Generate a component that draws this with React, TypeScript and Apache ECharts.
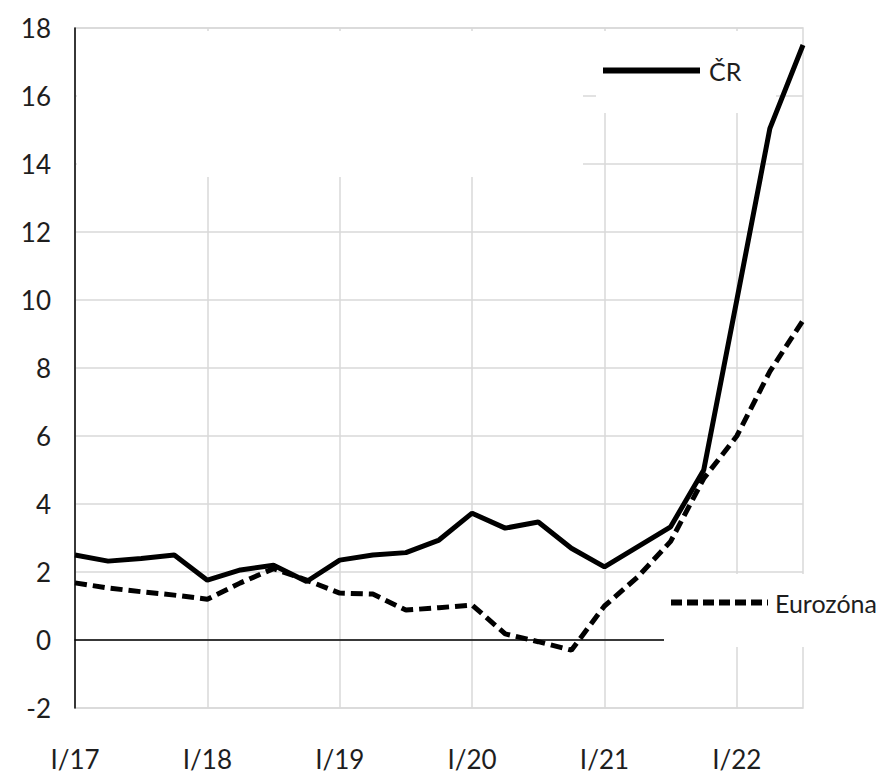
import React, { useEffect, useRef } from "react";
import * as echarts from "echarts";

const categories = [
  "I/17", "II/17", "III/17", "IV/17",
  "I/18", "II/18", "III/18", "IV/18",
  "I/19", "II/19", "III/19", "IV/19",
  "I/20", "II/20", "III/20", "IV/20",
  "I/21", "II/21", "III/21", "IV/21",
  "I/22", "II/22", "III/22",
];

const crValues = [
  2.5, 2.32, 2.4, 2.5,
  1.76, 2.06, 2.2, 1.72,
  2.35, 2.5, 2.57, 2.94,
  3.73, 3.29, 3.47, 2.7,
  2.15, 2.74, 3.33, 5.0,
  10.0, 15.05, 17.5,
];

const ezValues = [
  1.68, 1.53, 1.42, 1.32,
  1.2, 1.68, 2.1, 1.76,
  1.38, 1.35, 0.88, 0.95,
  1.03, 0.18, -0.05, -0.3,
  1.0, 1.85, 2.9, 4.75,
  6.0, 7.9, 9.4,
];

const seriesNames = ["ČR", "Eurozóna"];
const yMin = -2;
const yMax = 18;
const yStep = 2;

const FONT = "Lato, 'Open Sans', sans-serif";
const TEXT = "#1e1e1e";
const GRID = "#d9d9d9";
const FS = 25;

export default function App() {
  const ref = useRef<HTMLDivElement>(null);

  useEffect(() => {
    if (!ref.current) return;
    const chart = echarts.init(ref.current, null, { renderer: "svg" });
    chart.setOption({
      animation: false,
      backgroundColor: "#ffffff",
      textStyle: { fontFamily: FONT },
      grid: {
        left: 75,
        right: 73,
        top: 28,
        bottom: 71,
        show: true,
        borderColor: GRID,
        borderWidth: 1.5,
      },
      legend: [
        {
          data: [seriesNames[0]],
          left: 600,
          top: 58,
          padding: 0,
          itemWidth: 97,
          itemHeight: 30,
          itemGap: 0,
          itemStyle: { opacity: 0 },
          lineStyle: { width: 6, type: "solid", color: "#000000" },
          textStyle: { fontFamily: FONT, fontSize: FS, color: TEXT, padding: [0, 0, 0, 4] },
        },
        {
          data: [seriesNames[1]],
          left: 668,
          top: 590,
          padding: 0,
          itemWidth: 97,
          itemHeight: 30,
          itemGap: 0,
          itemStyle: { opacity: 0 },
          lineStyle: { width: 6, type: [11, 5], color: "#000000" },
          textStyle: { fontFamily: FONT, fontSize: FS, color: TEXT, padding: [0, 0, 0, 2] },
        },
      ],
      graphic: [
        { type: "rect", z: 1, shape: { x: 77, y: 31, width: 506, height: 146 }, style: { fill: "#ffffff" } },
        { type: "rect", z: 1, shape: { x: 596, y: 31, width: 180, height: 82 }, style: { fill: "#ffffff" } },
        { type: "rect", z: 1, shape: { x: 664, y: 574, width: 212, height: 73 }, style: { fill: "#ffffff" } },
      ],
      xAxis: {
        type: "category",
        data: categories,
        boundaryGap: false,
        axisLine: { show: true, onZero: true, lineStyle: { color: "#000000", width: 1.5 } },
        axisTick: { show: false },
        axisLabel: {
          interval: 3,
          margin: 38,
          fontSize: FS + 1,
          fontFamily: FONT,
          color: TEXT,
        },
        splitLine: { show: true, interval: 3, lineStyle: { color: GRID, width: 1.5 } },
      },
      yAxis: {
        type: "value",
        min: yMin,
        max: yMax,
        interval: yStep,
        axisLine: { show: true, lineStyle: { color: "#000000", width: 1.5 } },
        axisTick: { show: false },
        axisLabel: { margin: 24, fontSize: FS + 1, fontFamily: FONT, color: TEXT },
        splitLine: { show: true, lineStyle: { color: GRID, width: 1.5 } },
      },
      series: [
        {
          name: seriesNames[0],
          type: "line",
          data: crValues,
          symbol: "none",
          z: 3,
          lineStyle: { color: "#000000", width: 5 },
          itemStyle: { color: "#000000" },
        },
        {
          name: seriesNames[1],
          type: "line",
          data: ezValues,
          symbol: "none",
          z: 2,
          lineStyle: { color: "#000000", width: 5, type: [12, 6] },
          itemStyle: { color: "#000000" },
        },
      ],
    });
    return () => chart.dispose();
  }, []);

  return (
    <div
      ref={ref}
      style={{ position: "fixed", left: 0, top: 0, width: 876, height: 779, background: "#fff" }}
    />
  );
}
